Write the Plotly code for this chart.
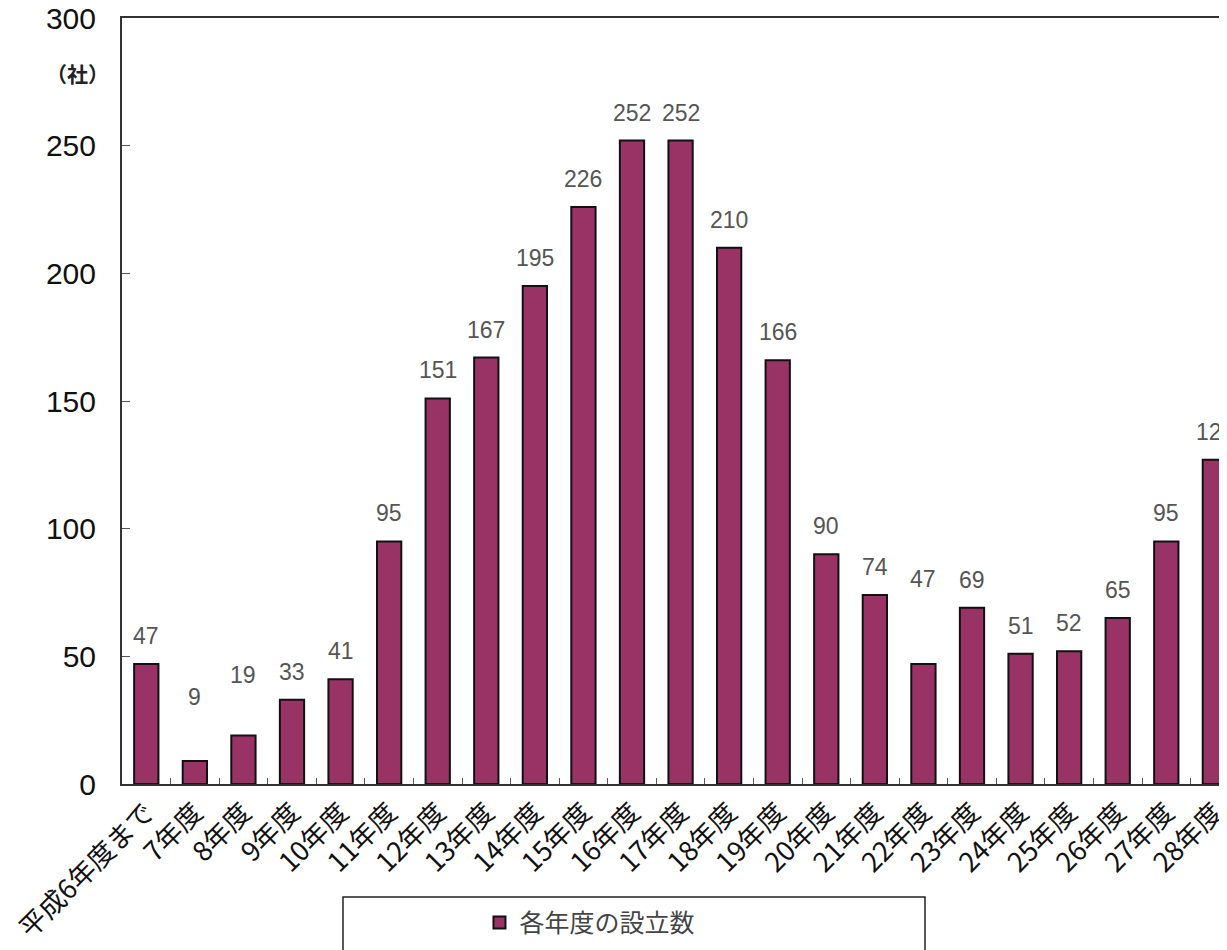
import plotly.graph_objects as go

categories = ["平成6年度まで", "7年度", "8年度", "9年度", "10年度", "11年度", "12年度",
              "13年度", "14年度", "15年度", "16年度", "17年度", "18年度", "19年度",
              "20年度", "21年度", "22年度", "23年度", "24年度", "25年度", "26年度",
              "27年度", "28年度"]
values = [47, 9, 19, 33, 41, 95, 151, 167, 195, 226, 252, 252, 210, 166,
          90, 74, 47, 69, 51, 52, 65, 95, 127]
series_name = "各年度の設立数"
y_ticks = [0, 50, 100, 150, 200, 250, 300]

# style: extra lift (px) for a few data labels placed higher in the original
label_extra_lift = {1: 36, 2: 32, 16: 57}

BAR_COLOR = "#993366"
FONT = "Liberation Sans, Arial, Noto Sans CJK JP, sans-serif"
JP = "Noto Sans CJK JP, sans-serif"

fig = go.Figure()
fig.add_trace(go.Bar(
    x=categories, y=values, name=series_name,
    marker=dict(color=BAR_COLOR, line=dict(color="#111111", width=2)),
    showlegend=True,
))

for i, (c, v) in enumerate(zip(categories, values)):
    fig.add_annotation(
        x=c, y=v, text=str(v), showarrow=False,
        yanchor="bottom", yshift=13 + label_extra_lift.get(i, 0),
        font=dict(family=FONT, size=23, color="#555555"),
    )

fig.add_annotation(
    x=-0.01, y=0.928, xref="paper", yref="paper", xanchor="right", yanchor="middle",
    text="<b>（社）</b>", showarrow=False,
    font=dict(family=JP, size=21, color="#222222"),
)

# legend frame
fig.add_shape(type="rect", xref="paper", yref="paper",
              x0=0.2, x1=0.7267, y0=-0.1475, y1=-0.35,
              line=dict(color="#222222", width=1.5), fillcolor="rgba(0,0,0,0)")

fig.update_layout(
    width=1219, height=942,
    margin=dict(l=114, r=0, t=10, b=166, autoexpand=False),
    paper_bgcolor="white", plot_bgcolor="white",
    bargap=0.5,
    font=dict(family=FONT, color="#111111"),
    legend=dict(x=0.4235, y=-0.181, xanchor="center", yanchor="middle",
                orientation="h", itemwidth=30,
                font=dict(family=JP, size=25, color="#444444"),
                bgcolor="rgba(0,0,0,0)"),
)
fig.update_xaxes(
    type="category", range=[-0.5, 22.25], automargin=False,
    showline=True, linecolor="#333333", linewidth=2, mirror=True,
    ticks="inside", ticklen=6, tickwidth=1, tickcolor="#555555",
    tickson="boundaries", tickangle=-45,
    tickfont=dict(family=JP, size=27, color="#111111"),
    showgrid=False,
)
fig.update_yaxes(
    range=[0, 300], tickvals=y_ticks, automargin=False,
    showline=True, linecolor="#333333", linewidth=2, mirror=False,
    ticks="inside", ticklen=8, tickwidth=1, tickcolor="#555555",
    ticklabelstandoff=18, ticklabeloverflow="allow",
    tickfont=dict(family=FONT, size=30, color="#111111"),
    showgrid=False, zeroline=False,
)

fig.write_html("out.html")
